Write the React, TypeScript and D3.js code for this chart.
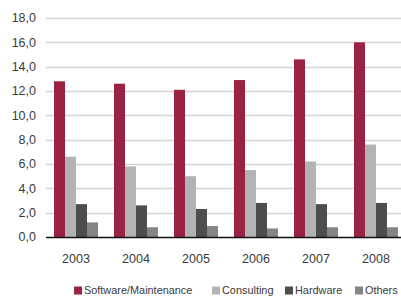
import React, { useEffect, useRef } from 'react'
import * as d3 from 'd3'

const years = ['2003', '2004', '2005', '2006', '2007', '2008']
const seriesNames = ['Software/Maintenance', 'Consulting', 'Hardware', 'Others']
const software = [12.8, 12.6, 12.1, 12.9, 14.6, 16.0]
const consulting = [6.6, 5.8, 5.0, 5.5, 6.2, 7.6]
const hardware = [2.7, 2.6, 2.3, 2.8, 2.7, 2.8]
const others = [1.2, 0.8, 0.9, 0.7, 0.8, 0.8]
const yTicks = [0, 2, 4, 6, 8, 10, 12, 14, 16, 18]
const colors = ['#9b2242', '#b3b3b3', '#4d4d4d', '#858585']

const App: React.FC = () => {
  const svgRef = useRef<SVGSVGElement | null>(null)

  useEffect(() => {
    if (!svgRef.current) return
    const svg = d3.select(svgRef.current)
    svg.selectAll('*').remove()
    const width = 401
    const height = 298
    const margin = { top: 18, right: -5, bottom: 61, left: 46 }
    const font = '"Liberation Sans", Arial, sans-serif'
    const series = [software, consulting, hardware, others]

    const x = d3
      .scaleBand()
      .domain(years)
      .range([margin.left, width - margin.right])
      .paddingInner(0.2667)
      .paddingOuter(0.1333)
    const xs = d3
      .scaleBand()
      .domain(seriesNames)
      .range([0, x.bandwidth()])
    const y = d3
      .scaleLinear()
      .domain([0, 18])
      .range([height - margin.bottom, margin.top])

    // grid
    svg
      .append('g')
      .selectAll('line')
      .data(yTicks.filter(d => d > 0))
      .join('line')
      .attr('x1', margin.left)
      .attr('x2', width)
      .attr('y1', d => Math.round(y(d)) + 0.5)
      .attr('y2', d => Math.round(y(d)) + 0.5)
      .attr('stroke', '#d4d4d4')
      .attr('stroke-width', 1.5)

    svg
      .append('g')
      .selectAll('text')
      .data(yTicks)
      .join('text')
      .attr('x', 36)
      .attr('y', d => y(d))
      .attr('dy', '0.35em')
      .attr('text-anchor', 'end')
      .attr('font-family', font)
      .attr('font-size', 12.5)
      .attr('fill', '#3a3a3a')
      .text(d => d3.format('.1f')(d).replace('.', ','))

    const groups = svg
      .append('g')
      .selectAll('g')
      .data(years)
      .join('g')
      .attr('transform', d => `translate(${x(d)},0)`)

    groups
      .selectAll('rect')
      .data((d, i) => seriesNames.map((s, j) => ({ s, j, v: series[j][i] })))
      .join('rect')
      .attr('x', d => xs(d.s)!)
      .attr('width', xs.bandwidth())
      .attr('y', d => y(d.v))
      .attr('height', d => y(0) - y(d.v))
      .attr('fill', d => colors[d.j])

    svg
      .append('line')
      .attr('x1', margin.left)
      .attr('x2', width)
      .attr('y1', Math.round(y(0)) + 0.5)
      .attr('y2', Math.round(y(0)) + 0.5)
      .attr('stroke', '#111')
      .attr('stroke-width', 1.5)

    svg
      .append('g')
      .selectAll('text')
      .data(years)
      .join('text')
      .attr('x', d => x(d)! + x.bandwidth() / 2)
      .attr('y', 259)
      .attr('dy', '0.35em')
      .attr('text-anchor', 'middle')
      .attr('font-family', font)
      .attr('font-size', 12.5)
      .attr('fill', '#3a3a3a')
      .text(d => d)

    const legendX = [74, 212, 285, 355]
    const legend = svg
      .append('g')
      .selectAll('g')
      .data(seriesNames)
      .join('g')
      .attr('transform', (d, i) => `translate(${legendX[i]},286)`)
    legend
      .append('rect')
      .attr('width', 8)
      .attr('height', 8)
      .attr('y', 0.5)
      .attr('fill', (d, i) => colors[i])
    legend
      .append('text')
      .attr('x', 10)
      .attr('y', 4.5)
      .attr('dy', '0.35em')
      .attr('font-family', font)
      .attr('font-size', 10.9)
      .attr('fill', '#3a3a3a')
      .text(d => d)
  }, [])

  return (
    <svg
      ref={svgRef}
      width={401}
      height={298}
      style={{ position: 'absolute', left: 0, top: 0, background: '#fff' }}
    ></svg>
  )
}

export default App
